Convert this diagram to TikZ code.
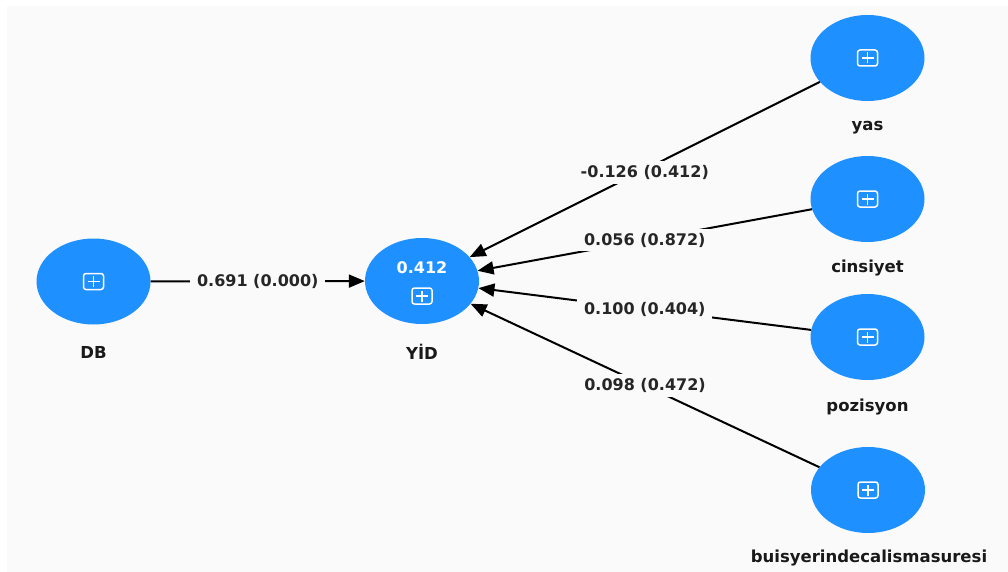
\documentclass[tikz,border=0pt]{standalone}
\usepackage{fontspec}
\setmainfont{DejaVu Sans}
\usetikzlibrary{arrows.meta,shapes.geometric}
\definecolor{bg}{HTML}{FAFAFA}
\definecolor{nodeblue}{HTML}{1E90FF}
\newcommand{\plusicon}{\tikz[baseline=-0.5ex,x=1pt,y=1pt]{\draw[white,line width=1.5pt,rounded corners=2.5pt] (-10,-8) rectangle (10,8); \draw[white,line width=1.5pt] (-6,0) -- (6,0) (0,-5.5) -- (0,5.5);}}
\tikzset{
  lv/.style={ellipse, fill=nodeblue, draw=none, minimum width=114pt, minimum height=86pt, inner sep=0pt, text=white, font=\fontsize{16}{19}\selectfont\bfseries},
  nlabel/.style={font=\fontsize{16.5}{19}\selectfont\bfseries, text=black!90},
  elabel/.style={fill=bg, inner xsep=7pt, inner ysep=4pt, font=\fontsize{16}{19}\selectfont\bfseries, text=black!85},
  conn/.style={line width=2pt, draw=black, -{Triangle[length=16pt,width=13pt]}}
}
\begin{document}
\begin{tikzpicture}[x=1pt,y=-1pt]
\useasboundingbox (0,0) rectangle (1008,572);
\fill[bg] (7,6) rectangle (1008,572);
\node[lv] (db) at (93.5,281.5) {\plusicon};
\node[lv] (yid) at (422,281) {};
\node[text=white, font=\fontsize{16}{19}\selectfont\bfseries] (yidval) at (422,268) {0.412};
\node (yidicon) at (422,296) {\plusicon};
\node[lv] (yas) at (867.5,58) {\plusicon};
\node[lv] (cins) at (867.5,199) {\plusicon};
\node[lv] (poz) at (867.5,337) {\plusicon};
\node[lv] (buis) at (868,490) {\plusicon};
\node[nlabel] (ldb) at (93.5,352) {DB};
\node[nlabel] (lyid) at (422,352) {YİD};
\node[nlabel] (lyas) at (867.5,128) {yas};
\node[nlabel] (lcins) at (867.5,268) {cinsiyet};
\node[nlabel] (lpoz) at (867.5,407) {pozisyon};
\node[nlabel] (lbuis) at (869,558) {buisyerindecalismasuresi};
\draw[conn] (db) -- node[elabel] {0.691 (0.000)} (yid);
\draw[conn] (yas) -- node[elabel, yshift=-3pt] {-0.126 (0.412)} (yid);
\draw[conn] (cins) -- node[elabel] {0.056 (0.872)} (yid);
\draw[conn] (poz) -- node[elabel] {0.100 (0.404)} (yid);
\draw[conn] (buis) -- node[elabel] {0.098 (0.472)} (yid);
\end{tikzpicture}
\end{document}
